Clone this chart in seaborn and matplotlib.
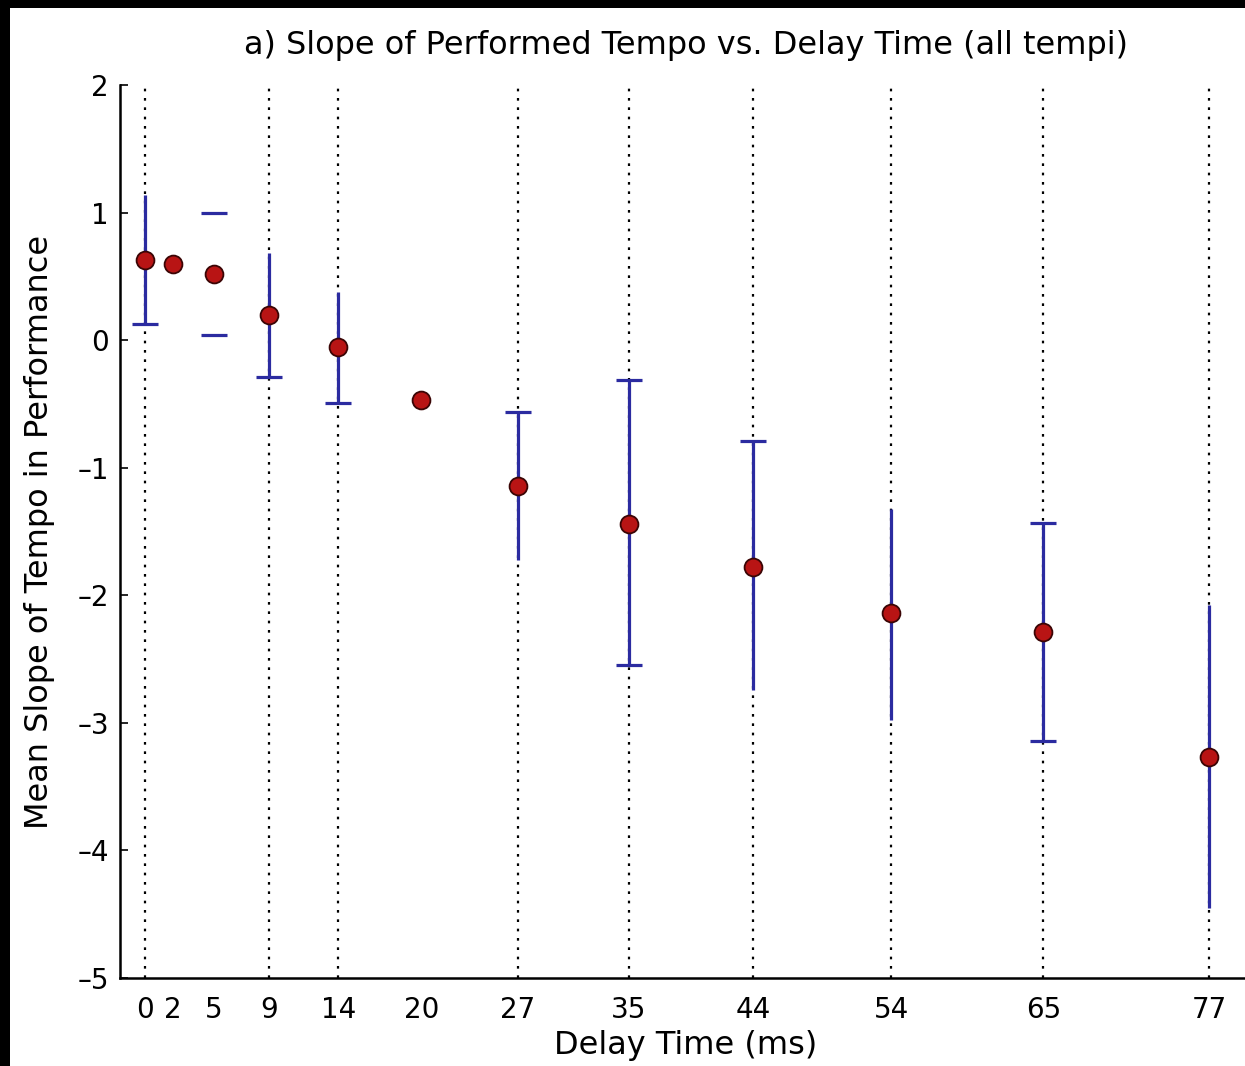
import numpy as np
import pandas as pd
import matplotlib
matplotlib.use("Agg")
import matplotlib.pyplot as plt
import seaborn as sns
from matplotlib.patches import Rectangle

# ---- data ----
delay = [0, 2, 5, 9, 14, 20, 27, 35, 44, 54, 65, 77]
mean_slope = [0.63, 0.60, 0.52, 0.20, -0.05, -0.47, -1.14, -1.44, -1.78, -2.14, -2.29, -3.27]
lower = [0.125, np.nan, 0.04, -0.29, -0.49, np.nan, -1.72, -2.55, -2.74, -2.98, -3.14, -4.45]
upper = [1.14, np.nan, 1.00, 0.68, 0.38, np.nan, -0.56, -0.31, -0.79, -1.32, -1.43, -2.08]
# which parts of each error bar are visible in the reference
show_line = [True, False, False, True, True, False, True, True, True, True, True, True]
show_lo_cap = [True, False, True, True, True, False, False, True, False, False, True, False]
show_hi_cap = [False, False, True, False, False, False, True, True, True, False, True, False]
grid_at = [0, 9, 14, 27, 35, 44, 54, 65, 77]
yticks = [2, 1, 0, -1, -2, -3, -4, -5]

df = pd.DataFrame({"delay": delay, "mean": mean_slope, "lo": lower, "hi": upper,
                   "line": show_line, "locap": show_lo_cap, "hicap": show_hi_cap})

sns.set_style("white")
plt.rcParams["font.family"] = ["DejaVu Sans"]
plt.rcParams["axes.unicode_minus"] = False
for k in ["text.color", "axes.labelcolor", "xtick.color", "ytick.color"]:
    plt.rcParams[k] = "black"

W, H = 1245, 1066
fig = plt.figure(figsize=(W / 100, H / 100), dpi=100, facecolor="black")
fig.patches.append(Rectangle((10 / W, 0), 1 - 10 / W, 1 - 8 / H, transform=fig.transFigure,
                             facecolor="white", edgecolor="none", zorder=-10))

ax = fig.add_axes([120 / W, 1 - 978 / H, (1252 - 120) / W, (978 - 85) / H])
ax.set_facecolor("white")

ax.set_xlim(-1.8, 80.1)
ax.set_ylim(-5, 2)

# dotted grid lines
ax.vlines(grid_at, -5, 2, colors="black", linestyles=(0, (1.2, 3.0)), linewidth=1.6, zorder=1)

ecol = "#2b2ba0"
seg = df[df["line"]]
ax.vlines(seg["delay"], seg["lo"], seg["hi"], colors=ecol, linewidth=2.3, zorder=2)
lc = df[df["locap"]]
ax.plot(lc["delay"], lc["lo"], linestyle="none", marker="_", markersize=19,
        markeredgewidth=2.3, color=ecol, zorder=2)
hc = df[df["hicap"]]
ax.plot(hc["delay"], hc["hi"], linestyle="none", marker="_", markersize=19,
        markeredgewidth=2.3, color=ecol, zorder=2)

sns.scatterplot(data=df, x="delay", y="mean", ax=ax, s=165, color="#b81414",
                edgecolor="#3a0505", linewidth=1.3, zorder=3, legend=False)

ax.set_xticks(delay)
ax.set_xticklabels([str(d) for d in delay])
ax.set_yticks(yticks)
ax.set_yticklabels([str(t) if t >= 0 else "\u2013" + str(-t) for t in yticks])
ax.tick_params(axis="x", direction="in", length=0, pad=13, labelsize=20)
ax.tick_params(axis="y", direction="in", length=6, width=1.2, pad=8, labelsize=20, left=True)

for s in ["top", "right"]:
    ax.spines[s].set_visible(False)
for s in ["left", "bottom"]:
    ax.spines[s].set_color("black")
    ax.spines[s].set_linewidth(1.8)

ax.set_title("a) Slope of Performed Tempo vs. Delay Time (all tempi)", fontsize=23, pad=22)
ax.set_xlabel("Delay Time (ms)", fontsize=23, labelpad=4)
ax.set_ylabel("Mean Slope of Tempo in Performance", fontsize=23, labelpad=16)

fig.savefig("out.png", dpi=100, facecolor=fig.get_facecolor())
